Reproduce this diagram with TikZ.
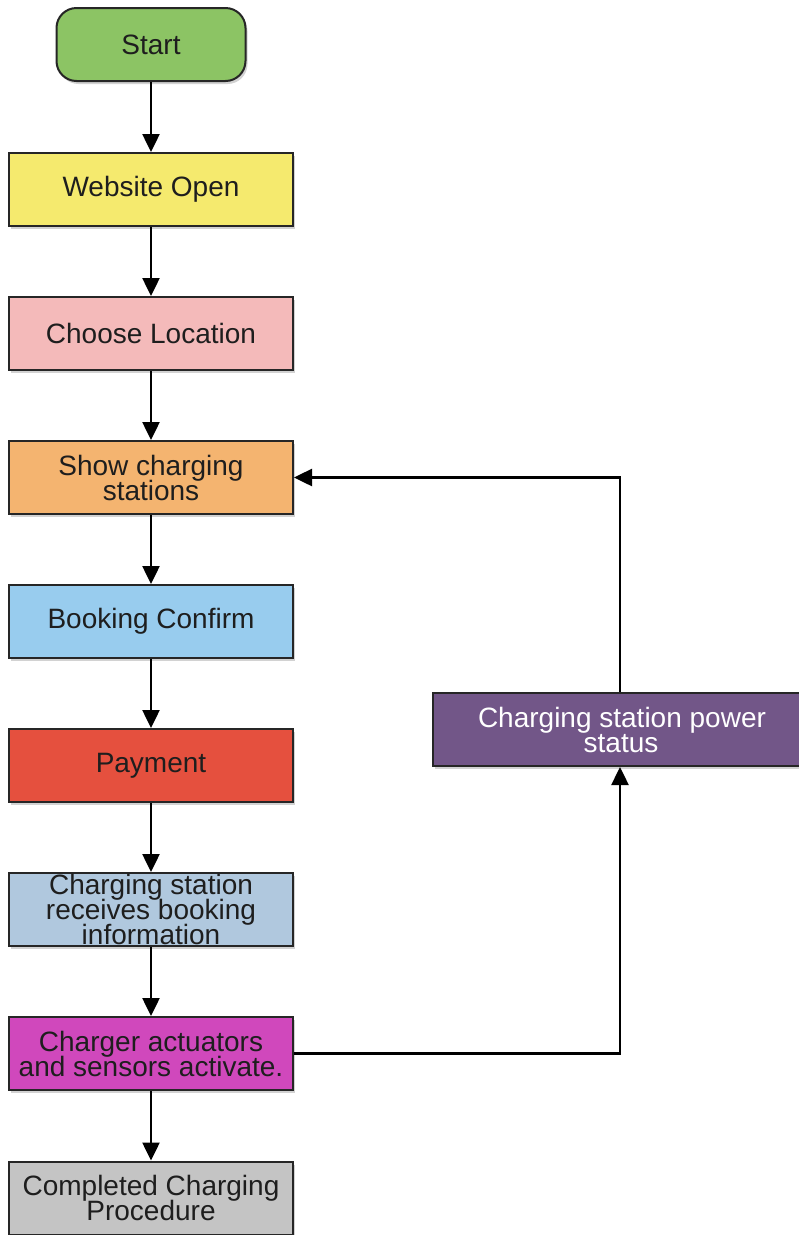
\documentclass[tikz,border=0pt]{standalone}
\usepackage{fontspec}
\setmainfont{Liberation Sans}
\usetikzlibrary{arrows.meta,shadows}
\definecolor{cgreen}{RGB}{140,196,100}
\definecolor{cyellow}{RGB}{245,234,110}
\definecolor{cpink}{RGB}{244,186,186}
\definecolor{corange}{RGB}{244,180,112}
\definecolor{cblue}{RGB}{152,204,238}
\definecolor{cred}{RGB}{229,80,62}
\definecolor{cgblue}{RGB}{176,200,222}
\definecolor{cmag}{RGB}{208,72,188}
\definecolor{cgray}{RGB}{196,196,196}
\definecolor{cpurple}{RGB}{114,86,136}
\definecolor{ctext}{RGB}{30,30,30}
\newcommand{\myboxfont}{\fontsize{28}{25}\selectfont\setlength{\lineskiplimit}{-30pt}}
\tikzset{
  every picture/.style={x=1pt,y=-1pt},
  box/.style={draw=black!85, line width=2pt, minimum width=284pt, minimum height=73pt,
    align=center, inner sep=0pt, text=ctext,
    font=\myboxfont,
    drop shadow={shadow xshift=2pt, shadow yshift=-3pt, opacity=0.35}},
  startbox/.style={box, rounded corners=20pt, minimum width=189pt},
  conn/.style={line width=2.5pt, draw=black},
  arr/.style={conn, -{Triangle[width=17pt,length=18pt]}}
}
\begin{document}
\begin{tikzpicture}
\fill[white] (0,0) rectangle (799,1235);
\clip (0,0) rectangle (799,1235);
\node[startbox, fill=cgreen] (start) at (151,44.5) {Start};
\node[box, fill=cyellow] (web) at (151,189.5) {Website Open};
\node[box, fill=cpink] (loc) at (151,333.5) {Choose Location};
\node[box, fill=corange] (show) at (151,477.5) {Show charging\\stations};
\node[box, fill=cblue] (book) at (151,621.5) {Booking Confirm};
\node[box, fill=cred] (pay) at (151,765.5) {Payment};
\node[box, fill=cgblue] (recv) at (151,909.5) {Charging station\\receives booking\\information};
\node[box, fill=cmag] (act) at (151,1053.5) {Charger actuators\\and sensors activate.};
\node[box, fill=cgray] (done) at (151,1198) {Completed Charging\\Procedure};
\node[box, fill=cpurple, text=white, minimum width=380pt, anchor=west] (power) at (432,729.5) {\hspace*{-2pt}Charging station power\\status\hspace*{4pt}};
\coordinate (pt) at (620,729.5);
\draw[arr] (start) -- (web);
\draw[arr] (web) -- (loc);
\draw[arr] (loc) -- (show);
\draw[arr] (show) -- (book);
\draw[arr] (book) -- (pay);
\draw[arr] (pay) -- (recv);
\draw[arr] (recv) -- (act);
\draw[arr] (act) -- (done);
\draw[arr] (act.east) -| (power.south -| pt);
\draw[arr] (power.north -| pt) |- (show.east);
\end{tikzpicture}
\end{document}
